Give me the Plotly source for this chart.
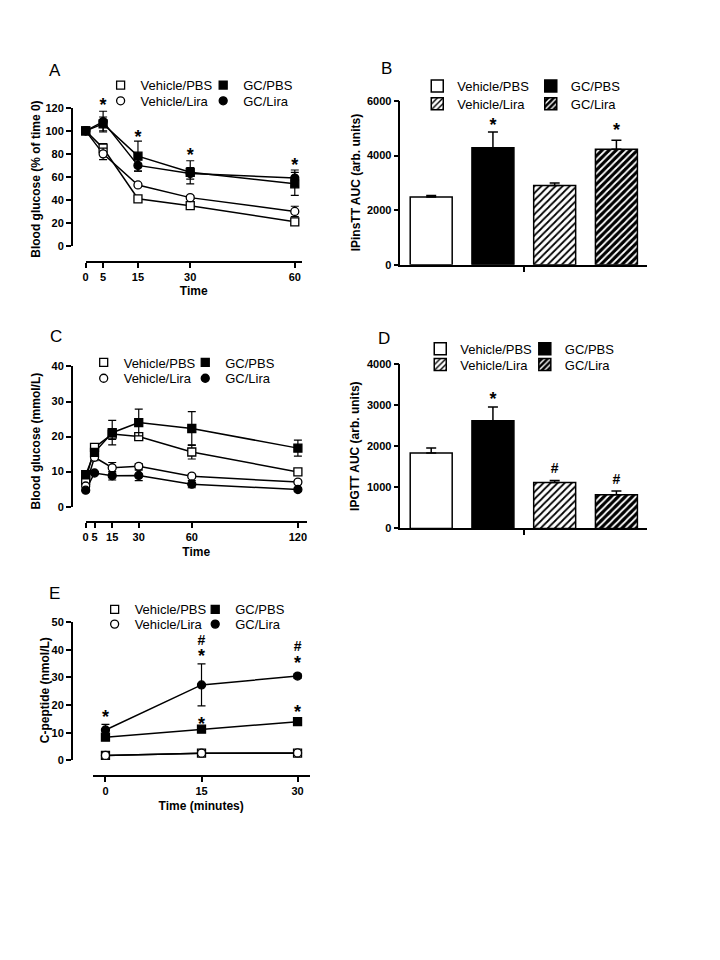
import plotly.graph_objects as go

# the page body has an 8px margin, so the figure is 16px smaller than the window
PAD = 8
W, H = 720 - 2 * PAD, 960 - 2 * PAD
FONT = "Liberation Sans"


def px(x):
    return (x - PAD) / W


def py(y):
    return 1 - (y - PAD) / H


# ---- data -------------------------------------------------------------
GROUPS = ["Vehicle/PBS", "Vehicle/Lira", "GC/PBS", "GC/Lira"]
BAR_ORDER = ["Vehicle/PBS", "GC/PBS", "Vehicle/Lira", "GC/Lira"]

# A: insulin tolerance, % of time 0
time_a = [0, 5, 15, 30, 60]
a_mean = {
    "Vehicle/PBS": [100, 85, 41, 35, 21],
    "Vehicle/Lira": [100, 80, 53, 42, 30],
    "GC/PBS": [100, 106, 78, 64, 54],
    "GC/Lira": [100, 108, 70, 63, 59],
}
a_err = {
    "Vehicle/PBS": [0, 4, 1.5, 1.5, 2],
    "Vehicle/Lira": [0, 5, 1.5, 1.5, 4.5],
    "GC/PBS": [0, 6, 13, 10, 10],
    "GC/Lira": [0, 9, 5, 5, 7],
}
a_star_x = [5, 15, 30, 60]
a_star_y = [121, 93, 78, 69]

# B: IPinsTT AUC
b_mean = [2480, 4280, 2900, 4230]
b_err = [60, 580, 90, 330]
b_marks = ["", "*", "", "*"]
b_mark_y = [0, 5060, 0, 4880]

# C: glucose tolerance, mmol/L
time_c = [0, 5, 15, 30, 60, 120]
c_mean = {
    "Vehicle/PBS": [7.5, 16.9, 20.7, 20.0, 15.6, 9.9],
    "Vehicle/Lira": [5.9, 14.1, 11.1, 11.5, 8.7, 7.0],
    "GC/PBS": [9.1, 15.5, 21.1, 24.0, 22.3, 16.7],
    "GC/Lira": [4.7, 9.6, 8.8, 8.9, 6.4, 4.9],
}
c_err = {
    "Vehicle/PBS": [1, 1, 1.5, 1, 2, 0.8],
    "Vehicle/Lira": [0.5, 1, 1.5, 0.8, 0.5, 0.5],
    "GC/PBS": [1, 1, 3.5, 3.8, 4.8, 2.3],
    "GC/Lira": [0.5, 0.5, 1.2, 1.5, 1, 0.5],
}

# D: IPGTT AUC
d_mean = [1840, 2625, 1120, 820]
d_err = [120, 340, 50, 95]
d_marks = ["", "*", "#", "#"]
d_mark_y = [0, 3110, 1440, 1160]

# E: C-peptide, nmol/L
time_e = [0, 15, 30]
e_mean = {
    "Vehicle/PBS": [1.8, 2.6, 2.6],
    "Vehicle/Lira": [1.8, 2.6, 2.7],
    "GC/PBS": [8.4, 11.3, 14.0],
    "GC/Lira": [11.0, 27.3, 30.5],
}
e_err = {
    "Vehicle/PBS": [0.3, 0.3, 0.3],
    "Vehicle/Lira": [0.3, 0.3, 0.3],
    "GC/PBS": [0.8, 0.8, 1.2],
    "GC/Lira": [2.0, 7.6, 0.8],
}
e_star_x = [0, 15, 15, 30, 30]
e_star_y = [15.1, 37.1, 12.7, 34.8, 17.1]
e_hash_x = [15, 30]
e_hash_y = [43.0, 40.9]

# ---- styles -----------------------------------------------------------
MARK = {
    "Vehicle/PBS": dict(symbol="square", color="white"),
    "Vehicle/Lira": dict(symbol="circle", color="white"),
    "GC/PBS": dict(symbol="square", color="black"),
    "GC/Lira": dict(symbol="circle", color="black"),
}
BAR = {
    "Vehicle/PBS": dict(color="white", pattern=dict(shape="")),
    "GC/PBS": dict(color="black", pattern=dict(shape="")),
    "Vehicle/Lira": dict(color="white", pattern=dict(
        shape="/", fgcolor="black", bgcolor="white", size=5, solidity=0.35, fillmode="replace")),
    "GC/Lira": dict(color="black", pattern=dict(
        shape="/", fgcolor="white", bgcolor="black", size=5, solidity=0.35, fillmode="replace")),
}
starfont = dict(family=FONT, size=18, color="black", weight="bold")
hashfont = dict(family=FONT, size=14, color="black", weight="bold")

fig = go.Figure()
legend_ids = iter(["legend"] + ["legend%d" % i for i in range(2, 21)])
legend_place = []  # (legend id, symbol x, row y) in page pixels


def line_panel(xa, ya, t, means, errs, leg_x, leg_y):
    for g in GROUPS:
        fig.add_trace(go.Scatter(
            x=t, y=means[g], mode="lines", xaxis=xa, yaxis=ya,
            line=dict(color="black", width=1.5), showlegend=False,
            cliponaxis=False, hoverinfo="skip",
        ))
    for i, g in enumerate(GROUPS):
        lid = next(legend_ids)
        legend_place.append((lid, leg_x[i // 2], leg_y[i % 2]))
        fig.add_trace(go.Scatter(
            x=t, y=means[g], mode="markers", name=g, xaxis=xa, yaxis=ya, legend=lid,
            marker=dict(symbol=MARK[g]["symbol"], color=MARK[g]["color"], size=8,
                        line=dict(color="black", width=1.3)),
            error_y=dict(type="data", array=errs[g], color="black", thickness=1.2, width=4),
            cliponaxis=False,
        ))


def marks(xa, ya, x, y, text, font):
    fig.add_trace(go.Scatter(
        x=x, y=y, text=text, mode="text", xaxis=xa, yaxis=ya,
        showlegend=False, cliponaxis=False, textfont=font, hoverinfo="skip",
    ))


def bar_panel(xa, ya, means, errs, labels, label_y, leg_x, leg_y):
    for i, g in enumerate(BAR_ORDER):
        lid = next(legend_ids)
        legend_place.append((lid, leg_x[i % 2], leg_y[i // 2]))
        fig.add_trace(go.Bar(
            x=[i], y=[means[i]], name=g, xaxis=xa, yaxis=ya, width=0.68, legend=lid,
            marker=dict(color=BAR[g]["color"], pattern=BAR[g]["pattern"],
                        line=dict(color="black", width=1.5)),
            error_y=dict(type="data", symmetric=False, array=[errs[i]], arrayminus=[0],
                         color="black", thickness=1.5, width=5),
        ))
    idx = list(range(len(BAR_ORDER)))
    stars = [i for i in idx if labels[i] == "*"]
    hashes = [i for i in idx if labels[i] == "#"]
    marks(xa, ya, stars, [label_y[i] for i in stars], ["*"] * len(stars), starfont)
    marks(xa, ya, hashes, [label_y[i] for i in hashes], ["#"] * len(hashes), hashfont)


line_panel("x", "y", time_a, a_mean, a_err, (119, 222), (82, 98))
# stars of A sit above the 120 tick, so they use a hidden twin axis with the same scale
marks("x", "y6", a_star_x, a_star_y, ["*"] * len(a_star_x), starfont)
bar_panel("x2", "y2", b_mean, b_err, b_marks, b_mark_y, (437, 551), (83, 101))
line_panel("x3", "y3", time_c, c_mean, c_err, (102, 204), (363, 379))
bar_panel("x4", "y4", d_mean, d_err, d_marks, d_mark_y, (440, 545), (349, 365))
line_panel("x5", "y5", time_e, e_mean, e_err, (113, 214), (613, 628))
marks("x5", "y5", e_star_x, e_star_y, ["*"] * len(e_star_x), starfont)
marks("x5", "y5", e_hash_x, e_hash_y, ["#"] * len(e_hash_x), hashfont)

# ---- axes -------------------------------------------------------------
tickfont = dict(family=FONT, size=11, color="black", weight="bold")
titlefont = dict(family=FONT, size=12, color="black", weight="bold")
axis_common = dict(showline=True, linecolor="black", linewidth=1.5, ticks="outside",
                   ticklen=5, tickwidth=1.5, tickcolor="black", showgrid=False,
                   zeroline=False, tickfont=tickfont)


def line_axes(n, xdom, ydom, xr, xticks, xpos, yr, yticks, xtitle):
    s = "" if n == 1 else str(n)
    fig.update_layout(**{
        "xaxis" + s: dict(axis_common, domain=[px(xdom[0]), px(xdom[1])], range=xr,
                          tickvals=xticks, anchor="free", position=py(xpos),
                          title=dict(text=xtitle, font=titlefont, standoff=4)),
        "yaxis" + s: dict(axis_common, domain=[py(ydom[0]), py(ydom[1])], range=yr,
                          tickvals=yticks, anchor="free", position=px(69)),
    })


def bar_axes(n, ydom, yr, yticks):
    s = str(n)
    fig.update_layout(**{
        "xaxis" + s: dict(axis_common, domain=[px(399), px(647)], range=[-0.5, 3.5],
                          tickvals=[1.5], ticktext=[""], anchor="y" + s),
        "yaxis" + s: dict(axis_common, domain=[py(ydom[0]), py(ydom[1])], range=yr,
                          tickvals=yticks, anchor="x" + s),
    })


line_axes(1, (83, 300), (243, 103), [0, 62], time_a, 259, [0, 120],
          [0, 20, 40, 60, 80, 100, 120], "Time")
bar_axes(2, (262, 96), [0, 6000], [0, 2000, 4000, 6000])
line_axes(3, (83, 305), (507, 365), [0, 125], time_c, 523, [0, 40],
          [0, 10, 20, 30, 40], "Time")
bar_axes(4, (529, 363), [0, 4000], [0, 1000, 2000, 3000, 4000])
line_axes(5, (90, 308), (764, 624), [-2, 31.9], time_e, 780, [0, 50],
          [0, 10, 20, 30, 40, 50], "Time (minutes)")
# hidden twin of A's y axis: same px-per-unit, taller domain
fig.update_layout(yaxis6=dict(domain=[py(243), py(83)], range=[0, 120 * 160 / 140],
                              anchor="x", visible=False, showgrid=False, zeroline=False))

# y-axis titles
for text, tx, ty in [("Blood glucose (% of time 0)", 33, 175),
                     ("IPinsTT AUC (arb. units)", 354, 179),
                     ("Blood glucose (mmol/L)", 33, 440),
                     ("IPGTT AUC (arb. units)", 354, 446),
                     ("C-peptide (nmol/L)", 42, 693)]:
    fig.add_annotation(text=text, x=px(tx), y=py(ty), xref="paper", yref="paper",
                       xanchor="center", yanchor="middle", textangle=-90,
                       showarrow=False, font=titlefont)

# ---- legends (one per entry so rows sit where the reference has them) --
legfont = dict(family=FONT, size=13, color="black")
for lid, sx, sy in legend_place:
    fig.update_layout(**{lid: dict(x=px(sx - 21), y=py(sy - 2), xanchor="left", yanchor="middle",
                                   orientation="v", font=legfont, bgcolor="rgba(0,0,0,0)",
                                   borderwidth=0, itemwidth=30)})

# ---- panel letters ----------------------------------------------------
for letter, lx, ly in [("A", 52, 65), ("B", 385, 63), ("C", 53, 335), ("D", 383, 337), ("E", 52, 595)]:
    fig.add_annotation(text=letter, x=px(lx), y=py(ly), xref="paper", yref="paper",
                       xanchor="center", yanchor="middle", showarrow=False,
                       font=dict(family=FONT, size=17, color="black"))

# transparent plot areas so the hidden twin subplot does not cover panel A
fig.update_layout(width=W, height=H, margin=dict(l=0, r=0, t=0, b=0),
                  paper_bgcolor="white", plot_bgcolor="rgba(0,0,0,0)", barmode="overlay",
                  font=dict(family=FONT, color="black"))

fig.write_html("out.html")
